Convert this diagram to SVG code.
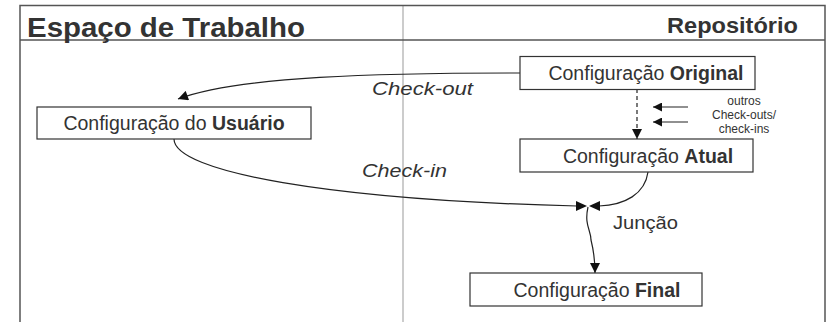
<svg xmlns="http://www.w3.org/2000/svg" width="831" height="322" viewBox="0 0 831 322">
<style>
.frame{fill:none;stroke:#555;stroke-width:1.5}
.divider{stroke:#aaa;stroke-width:1.2}
.box{fill:#fff;stroke:#333;stroke-width:1.2}
.t{font-family:"Liberation Sans",Arial,sans-serif;fill:#333}
.lbl{font-size:19.5px;text-anchor:middle}
.conn{fill:none;stroke:#222;stroke-width:1.2}
.head{fill:#111;stroke:none}
.small{font-size:12px;text-anchor:middle}
.it{font-size:19px;font-style:italic}
</style>
<defs>
<marker id="ah" viewBox="0 0 10 10" refX="10" refY="5" markerWidth="11" markerHeight="10" markerUnits="userSpaceOnUse" orient="auto">
<path d="M0,0 L10,5 L0,10 z" fill="#111"/>
</marker>
<marker id="ahs" viewBox="0 0 10 10" refX="10" refY="5" markerWidth="12" markerHeight="9" markerUnits="userSpaceOnUse" orient="auto">
<path d="M0,0 L10,5 L0,10 z" fill="#111"/>
</marker>
</defs>
<rect width="831" height="322" fill="#fff"/>
<g id="frame">
<line class="divider" x1="403" y1="5" x2="403" y2="322"/>
<path class="frame" d="M20,322 V5.5 H825 V322"/>
<line class="frame" x1="20" y1="40" x2="825" y2="40"/>
<text class="t" x="27" y="37" font-size="27" font-weight="bold" textLength="278" lengthAdjust="spacingAndGlyphs">Espaço de Trabalho</text>
<text class="t" x="798" y="33" font-size="22" font-weight="bold" text-anchor="end" textLength="131" lengthAdjust="spacingAndGlyphs">Repositório</text>
</g>
<g id="connectors">
<path class="conn" d="M520,73 C380,73 240,76 178,99" marker-end="url(#ah)"/>
<path class="conn" d="M637,89 V139" stroke-dasharray="4,3" marker-end="url(#ah)"/>
<path class="conn" d="M688,107 H653" marker-end="url(#ahs)"/>
<path class="conn" d="M688,122 H653" marker-end="url(#ahs)"/>
<path class="conn" d="M174,139 C174,172 330,200 577,206"/>
<polygon class="head" points="576,201 587,206 576,211"/>
<path class="conn" d="M648,172 C645,194 625,205 599,206"/>
<polygon class="head" points="600,201 589,206 600,211"/>
<path class="conn" d="M588,207 C584,225 591,230 591,240 C594,252 595,258 595,273" marker-end="url(#ah)"/>
<text class="t it" x="372" y="95" textLength="101" lengthAdjust="spacingAndGlyphs">Check-out</text>
<text class="t it" x="362" y="177" textLength="85" lengthAdjust="spacingAndGlyphs">Check-in</text>
<text class="t" x="613" y="229" font-size="19" textLength="65" lengthAdjust="spacingAndGlyphs">Junção</text>
<text class="t small" x="744" y="105">outros</text>
<text class="t small" x="744" y="119">Check-outs/</text>
<text class="t small" x="744" y="133">check-ins</text>
</g>
<g id="node-original">
<rect class="box" x="520" y="56.5" width="235" height="33"/>
<text class="t lbl" x="646" y="80">Configuração <tspan font-weight="bold">Original</tspan></text>
</g>
<g id="node-usuario">
<rect class="box" x="37" y="107" width="274" height="32"/>
<text class="t lbl" x="174" y="130">Configuração do <tspan font-weight="bold">Usuário</tspan></text>
</g>
<g id="node-atual">
<rect class="box" x="520" y="139" width="233" height="33"/>
<text class="t lbl" x="648" y="163">Configuração <tspan font-weight="bold">Atual</tspan></text>
</g>
<g id="node-final">
<rect class="box" x="470" y="273" width="232" height="33"/>
<text class="t lbl" x="597" y="297">Configuração <tspan font-weight="bold">Final</tspan></text>
</g>
</svg>
